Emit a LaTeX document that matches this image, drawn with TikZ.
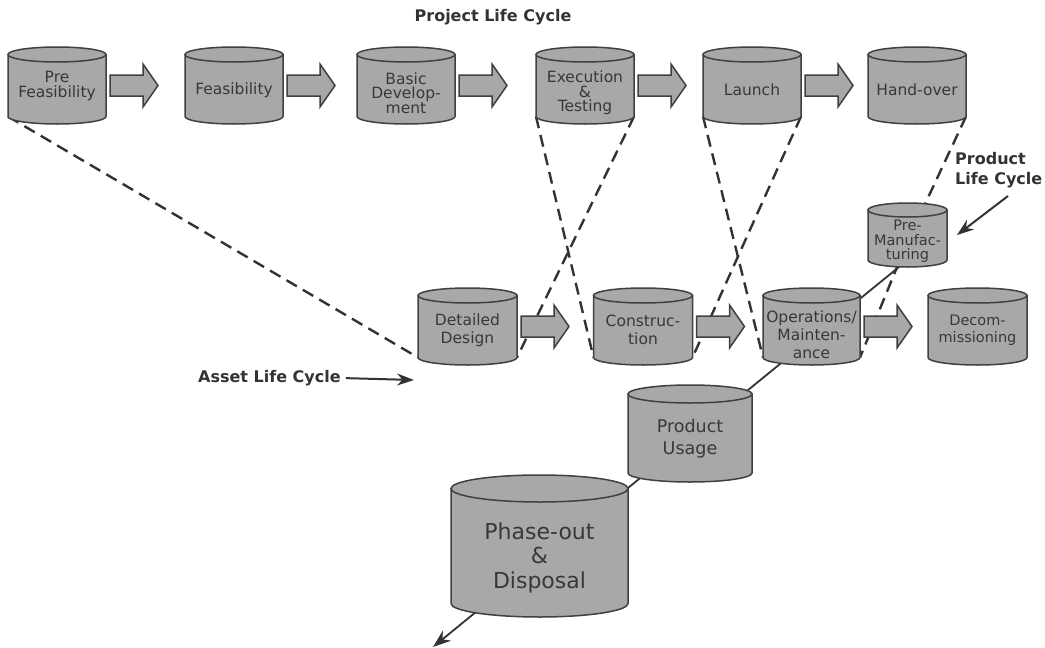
\documentclass[tikz,border=0pt]{standalone}
\usepackage{fontspec}
\setmainfont{DejaVu Sans}
\usetikzlibrary{arrows.meta,calc}
\pgfdeclarelayer{canvasbg}
\pgfdeclarelayer{background}
\pgfsetlayers{canvasbg,background,main}
\definecolor{cylfill}{HTML}{A8A8A8}
\definecolor{cyledge}{HTML}{404040}
\definecolor{txtcol}{HTML}{383838}
\definecolor{dashcol}{HTML}{333333}
% name, cx, ytop, ybot, rx, ry, text y, font, text
\newcommand\cylnode[9]{%
  \path[cylsty] (#2-#5,#3+#6) -- (#2-#5,#4-#6)
    arc[start angle=180,end angle=360,x radius=#5pt,y radius=#6pt]
    -- (#2+#5,#3+#6) -- cycle;
  \path[cylsty] (#2,#3+#6) ellipse[x radius=#5pt,y radius=#6pt];
  \coordinate (#1-bl) at (#2-#5,#4-#6);
  \coordinate (#1-br) at (#2+#5,#4-#6);
  \coordinate (#1-b) at (#2,#4-#6);
  \coordinate (#1-e) at (#2+#5,{(#3+#4)/2});
  \node[cyltext,font=#8] (#1) at (#2,#7) {#9};
}
\newcommand\blockarr[1]{%
  \draw[blk,shift={(#1-e)}] (4,-10.5) -- (37,-10.5) -- (37,-21.5) -- (52,0)
    -- (37,21.5) -- (37,10.5) -- (4,10.5) -- cycle;
}
\begin{document}
\begin{tikzpicture}[x=1pt,y=-1pt,
  cylsty/.style={fill=cylfill,draw=cyledge,line width=1.5pt},
  cyltext/.style={align=center,inner sep=0pt,text=txtcol},
  blk/.style={fill=cylfill,draw=cyledge,line width=1.5pt,line join=miter},
  dline/.style={draw=dashcol,line width=2.4pt,dash pattern=on 12pt off 7pt},
  sline/.style={draw=dashcol,line width=1.8pt},
  lbl/.style={font=\bfseries\fontsize{16}{20}\selectfont,text=dashcol,inner sep=0pt,align=left},
  ptr/.style={draw=dashcol,line width=2pt,-{Stealth[length=17pt,width=12pt]}}]
\useasboundingbox (0,0) rectangle (1045,648);
\begin{pgfonlayer}{canvasbg}
  \fill[white] (0,0) rectangle (1045,648);
\end{pgfonlayer}

\node[lbl] (plctitle) at (493,17) {Project Life Cycle};

% top row
\cylnode{pf}{57}{47}{124}{49}{7.5}{86}{\fontsize{15.5}{15}\selectfont}{Pre\\Feasibility}
\cylnode{fe}{234}{47}{124}{49}{7.5}{90}{\fontsize{15.5}{15}\selectfont}{Feasibility}
\cylnode{bd}{406}{47}{124}{49}{7.5}{93}{\fontsize{15.5}{14.5}\selectfont}{Basic\\Develop-\\ment}
\cylnode{ex}{585}{47}{124}{49}{7.5}{93}{\fontsize{15.5}{14.5}\selectfont}{Execution\\\&\\Testing}
\cylnode{la}{752}{47}{124}{49}{7.5}{90}{\fontsize{15.5}{15}\selectfont}{Launch}
\cylnode{ho}{917}{47}{124}{49}{7.5}{90}{\fontsize{15.5}{15}\selectfont}{Hand-over}
\blockarr{pf}
\blockarr{fe}
\blockarr{bd}
\blockarr{ex}
\blockarr{la}

% middle row
\cylnode{pm}{907.5}{203}{267}{39.5}{7}{241.5}{\fontsize{14.5}{14.5}\selectfont}{Pre-\\Manufac-\\turing}
\cylnode{dd}{467.5}{288}{365}{49.5}{7.5}{330}{\fontsize{15.5}{18}\selectfont}{Detailed\\Design}
\cylnode{co}{643}{288}{365}{49.5}{7.5}{330}{\fontsize{15.5}{18}\selectfont}{Construc-\\tion}
\cylnode{ops}{811.5}{288}{365}{48.5}{7.5}{335}{\fontsize{15.5}{18}\selectfont}{Operations/\\Mainten-\\ance}
\cylnode{dc}{977.5}{288}{365}{49.5}{7.5}{330}{\fontsize{14.5}{17}\selectfont}{Decom-\\missioning}
\blockarr{dd}
\blockarr{co}
\blockarr{ops}

% lower chain
\cylnode{pu}{690}{385}{482}{62}{9}{438.5}{\fontsize{17.5}{22}\selectfont}{Product\\Usage}
\cylnode{ph}{539.5}{475}{617}{88.5}{13.5}{557.5}{\fontsize{22}{24.5}\selectfont}{Phase-out\\\&\\Disposal}

% labels
\node[lbl,anchor=west] (plc) at (955,170) {Product\\Life Cycle};
\node[lbl,anchor=west] (alc) at (198,378) {Asset Life Cycle};
\coordinate (plcs) at (1008,196);
\coordinate (plct) at (957,235);
\coordinate (alct) at (414,380);
\coordinate (out) at (433,647);
\draw[ptr] (plcs) -- (plct);
\draw[ptr,shorten <=5pt] (alc.east) -- (alct);

\begin{pgfonlayer}{background}
  \draw[dline] (pf-bl) -- (dd-bl);
  \draw[dline] (ex-bl) -- (co-bl);
  \draw[dline] (ex-br) -- (dd-br);
  \draw[dline] (la-bl) -- (ops-bl);
  \draw[dline] (la-br) -- (co-br);
  \draw[dline] (ho-br) -- (pm);
  \draw[dline] (pm) -- (ops-br);
  \draw[sline,-{Stealth[length=18pt,width=13pt]}] (pm-b) -- (out);
\end{pgfonlayer}
\end{tikzpicture}
\end{document}
